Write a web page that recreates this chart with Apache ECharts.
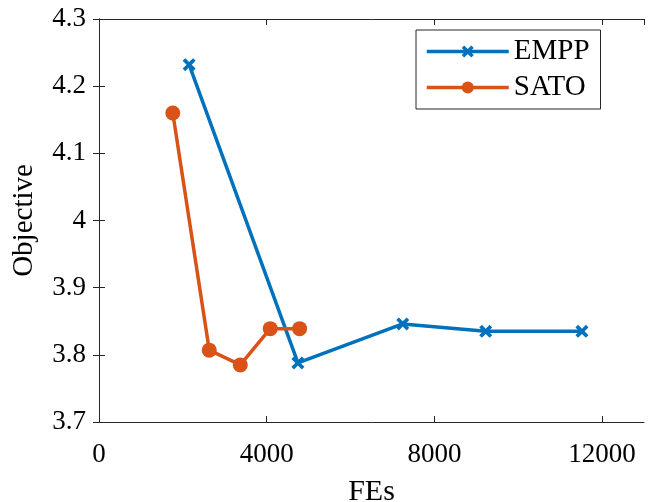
<!DOCTYPE html>
<html>
<head>
<meta charset="utf-8">
<script src="https://cdn.jsdelivr.net/npm/echarts@6/dist/echarts.min.js"></script>
<style>
  html, body { margin: 0; padding: 0; background: #fff; }
  #main { width: 651px; height: 502px; }
</style>
</head>
<body>
<div id="main"></div>
<script>
// data
var emppFEs = [2150, 4745, 7245, 9225, 11520];
var emppObj = [4.232, 3.788, 3.846, 3.835, 3.835];
var satoFEs = [1760, 2630, 3370, 4085, 4785];
var satoObj = [4.160, 3.807, 3.785, 3.839, 3.839];
var xTicks = [0, 4000, 8000, 12000];
var yTicks = [3.7, 3.8, 3.9, 4.0, 4.1, 4.2, 4.3];

var colors = ['#0072BD', '#D95319'];
var axisColor = '#262626';
var font = 'Liberation Serif';
// thick x marker (MATLAB style)
var crossPath = 'path://M0,2 L2,0 L5,3 L8,0 L10,2 L7,5 L10,8 L8,10 L5,7 L2,10 L0,8 L3,5 Z';

function pair(xs, ys) {
    return xs.map(function (x, i) { return [x, ys[i]]; });
}

var xMin = xTicks[0], xMax = 13000, xStep = xTicks[1] - xTicks[0];
var yMin = yTicks[0], yMax = yTicks[yTicks.length - 1];

var tickStyle = { inside: true, length: 6, lineStyle: { color: axisColor, width: 1 } };
var lineStyleAxis = { show: true, lineStyle: { color: axisColor, width: 1 } };

var myChart = echarts.init(document.getElementById('main'));
myChart.setOption({
    animation: false,
    color: colors,
    textStyle: { fontFamily: font },
    grid: { left: 99, right: 7, top: 19, bottom: 80, containLabel: false, outerBoundsMode: 'none' },
    legend: {
        orient: 'vertical',
        left: 416,
        top: 30,
        padding: [7, 11, 7, 9],
        itemGap: 7,
        itemWidth: 82,
        itemHeight: 15,
        borderColor: '#262626',
        borderWidth: 1,
        backgroundColor: '#fff',
        lineStyle: { width: 3.5 },
        textStyle: { fontFamily: font, fontSize: 29, color: '#000' },
        data: ['EMPP', 'SATO']
    },
    xAxis: [
        {
            type: 'value',
            min: xMin, max: xMax, interval: xStep,
            name: 'FEs', nameLocation: 'middle', nameGap: 55,
            nameTextStyle: { fontFamily: font, fontSize: 30, color: '#000' },
            axisLine: lineStyleAxis,
            axisTick: tickStyle,
            splitLine: { show: false },
            axisLabel: {
                fontFamily: font, fontSize: 27, color: '#000', margin: 19,
                showMaxLabel: false,
                formatter: function (v) { return xTicks.indexOf(v) >= 0 ? String(v) : ''; }
            }
        },
        {
            type: 'value', position: 'top',
            min: xMin, max: xMax, interval: xStep,
            axisLine: lineStyleAxis,
            axisTick: tickStyle,
            splitLine: { show: false },
            axisLabel: { show: false }
        }
    ],
    yAxis: [
        {
            type: 'value',
            min: yMin, max: yMax, interval: 0.1,
            name: 'Objective', nameLocation: 'middle', nameGap: 60,
            nameTextStyle: { fontFamily: font, fontSize: 29, color: '#000' },
            axisLine: lineStyleAxis,
            axisTick: tickStyle,
            splitLine: { show: false },
            axisLabel: {
                fontFamily: font, fontSize: 27, color: '#000', margin: 13,
                formatter: function (v) { return String(parseFloat(v.toFixed(1))); }
            }
        },
        {
            type: 'value', position: 'right',
            min: yMin, max: yMax, interval: 0.1,
            axisLine: lineStyleAxis,
            axisTick: tickStyle,
            splitLine: { show: false },
            axisLabel: { show: false }
        }
    ],
    series: [
        {
            name: 'EMPP',
            type: 'line',
            data: pair(emppFEs, emppObj),
            symbol: crossPath,
            symbolSize: 13,
            lineStyle: { width: 3.5 },
            itemStyle: { color: colors[0] }
        },
        {
            name: 'SATO',
            type: 'line',
            data: pair(satoFEs, satoObj),
            symbol: 'circle',
            symbolSize: 15,
            lineStyle: { width: 3.5 },
            itemStyle: { color: colors[1] }
        }
    ]
});
window.onresize = function () {
    myChart.resize();
};
</script>
</body>
</html>
